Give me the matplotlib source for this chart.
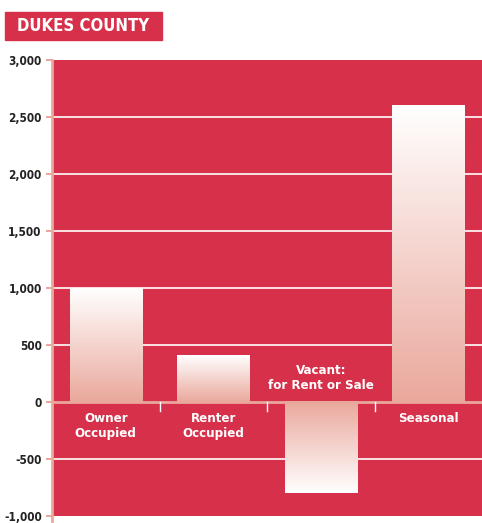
import matplotlib.pyplot as plt
import numpy as np
from matplotlib.colors import LinearSegmentedColormap

categories = ["Owner\nOccupied", "Renter\nOccupied", "Vacant:\nfor Rent or Sale", "Seasonal"]
values = [1000, 410, -800, 2600]
yticks = [-1000, -500, 0, 500, 1000, 1500, 2000, 2500, 3000]
title = "DUKES COUNTY"

red = "#D6304A"
salmon = "#EAA89C"
font = ["DejaVu Sans"]

fig = plt.figure(figsize=(4.82, 5.23), dpi=100)
ax = fig.add_axes([0.108, 1 - 516 / 523, 0.892, 456 / 523])
ax.set_facecolor(red)

# gradient: salmon at zero, white at the far end
cmap = LinearSegmentedColormap.from_list("fade", [salmon, "#FFFFFF"])
grad = np.linspace(0, 1, 256).reshape(-1, 1)
w = 0.67
x = np.arange(len(values))
for xi, v in zip(x, values):
    ax.imshow(grad, cmap=cmap, aspect="auto", origin="lower",
              extent=[xi - w / 2, xi + w / 2, 0, v], zorder=3)

for t in yticks:
    if t not in (0, -1000, 3000):
        ax.axhline(t, color="white", lw=1.2, zorder=1)
ax.axhline(0, color=salmon, lw=2, zorder=4)

# small white ticks between categories
for b in [0.5, 1.5, 2.5]:
    ax.plot([b, b], [0, -80], color="white", lw=1, zorder=4)

for xi, v, c in zip(x, values, categories):
    if v >= 0:
        ax.text(xi, -90, c, ha="center", va="top", color="white", fontsize=9.5,
                fontweight="bold", family=font, fontstretch="condensed",
                linespacing=1.2, zorder=5)
    else:
        ax.text(xi, 90, c, ha="center", va="bottom", color="white", fontsize=9.5,
                fontweight="bold", family=font, fontstretch="condensed",
                linespacing=1.2, zorder=5)

ax.set_xlim(-0.5, 3.5)
ax.set_ylim(-1000, 3000)
ax.set_xticks([])
ax.set_yticks(yticks)
ax.set_yticklabels([f"{t:,}" for t in yticks], fontsize=8.5, fontweight="bold",
                   family=font, fontstretch="condensed", color="#222222")
ax.tick_params(axis="y", colors=salmon, labelcolor="#222222", length=4, width=1.5)
for s in ["top", "right", "bottom"]:
    ax.spines[s].set_visible(False)
ax.spines["left"].set_color(salmon)
ax.spines["left"].set_linewidth(2)
ax.spines["left"].set_bounds(-1040, 3000)

fig.patches.append(plt.Rectangle((5 / 482, 1 - 40 / 523), 157 / 482, 28 / 523,
                                 transform=fig.transFigure, color=red, zorder=0))
fig.text(83 / 482, 1 - 26 / 523, title, ha="center", va="center", fontsize=12,
         fontweight="bold", color="white", family=font, fontstretch="condensed")

fig.savefig("out.png", dpi=100)
